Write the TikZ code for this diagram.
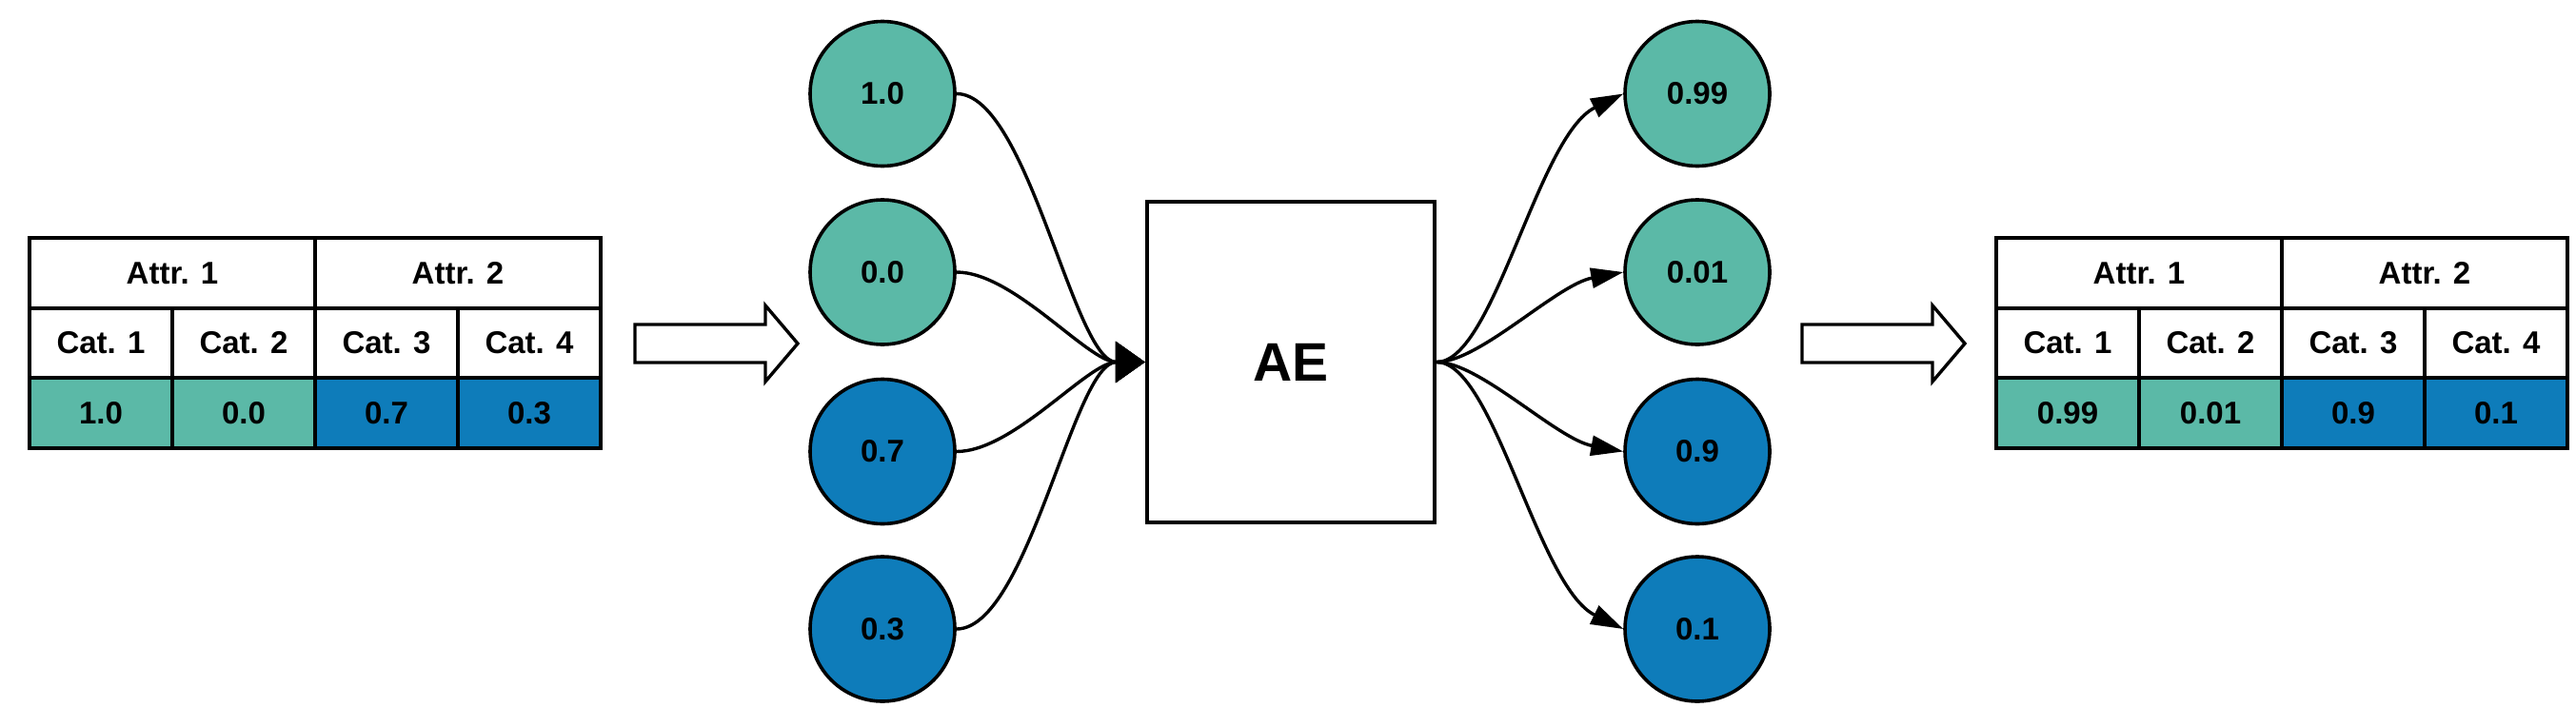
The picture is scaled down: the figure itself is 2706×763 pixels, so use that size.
\documentclass[tikz,border=0pt]{standalone}
\usepackage{fontspec}
\setmainfont{Liberation Sans}
\usetikzlibrary{arrows.meta}
\definecolor{teal1}{RGB}{91,185,167}
\definecolor{blue1}{RGB}{14,124,186}
\tikzset{
  cell/.style={draw, line width=4pt, rectangle, minimum width=150pt, minimum height=73.7pt, inner sep=0pt, font=\fontsize{33}{38}\selectfont\bfseries},
  hcell/.style={cell, minimum width=300pt},
  tcell/.style={cell, fill=teal1},
  bcell/.style={cell, fill=blue1},
  neuron/.style={draw, circle, line width=3.6pt, minimum size=152pt, inner sep=0pt, font=\fontsize{33}{38}\selectfont\bfseries},
  tneuron/.style={neuron, fill=teal1},
  bneuron/.style={neuron, fill=blue1},
  aebox/.style={draw, rectangle, line width=4.5pt, minimum width=302pt, minimum height=337pt, inner sep=0pt, font=\fontsize{57}{64}\selectfont\bfseries},
  inlink/.style={line width=3.4pt, -{Triangle[length=31pt,width=43pt]}},
  outlink/.style={line width=3.4pt, -{Triangle[length=34pt,width=21pt]}},
  blockarrow/.style={draw, line width=3.4pt, fill=white, line join=miter}
}
\begin{document}
\begin{tikzpicture}[x=1pt,y=-1pt]
\useasboundingbox (0,0) rectangle (2706,763);
% left table
\node[hcell] (la1) at (181,286.8) {Attr. 1};
\node[hcell] (la2) at (481,286.8) {Attr. 2};
\node[cell] (lc1) at (106,360.5) {Cat. 1};
\node[cell] (lc2) at (256,360.5) {Cat. 2};
\node[cell] (lc3) at (406,360.5) {Cat. 3};
\node[cell] (lc4) at (556,360.5) {Cat. 4};
\node[tcell] (lv1) at (106,434.2) {1.0};
\node[tcell] (lv2) at (256,434.2) {0.0};
\node[bcell] (lv3) at (406,434.2) {0.7};
\node[bcell] (lv4) at (556,434.2) {0.3};
% right table
\node[hcell] (ra1) at (2247,286.8) {Attr. 1};
\node[hcell] (ra2) at (2547,286.8) {Attr. 2};
\node[cell] (rc1) at (2172,360.5) {Cat. 1};
\node[cell] (rc2) at (2322,360.5) {Cat. 2};
\node[cell] (rc3) at (2472,360.5) {Cat. 3};
\node[cell] (rc4) at (2622,360.5) {Cat. 4};
\node[tcell] (rv1) at (2172,434.2) {0.99};
\node[tcell] (rv2) at (2322,434.2) {0.01};
\node[bcell] (rv3) at (2472,434.2) {0.9};
\node[bcell] (rv4) at (2622,434.2) {0.1};
% block arrows
\draw[blockarrow] (667,341) -- (804,341) -- (804,321) -- (838,361) -- (804,401) -- (804,381) -- (667,381) -- cycle;
\draw[blockarrow] (1893,341) -- (2030,341) -- (2030,321) -- (2064,361) -- (2030,401) -- (2030,381) -- (1893,381) -- cycle;
% input neurons
\node[tneuron] (i1) at (927,98.5) {1.0};
\node[tneuron] (i2) at (927,286) {0.0};
\node[bneuron] (i3) at (927,474.5) {0.7};
\node[bneuron] (i4) at (927,661) {0.3};
% AE
\node[aebox] (ae) at (1356,380.5) {AE};
% output neurons
\node[tneuron] (o1) at (1783,98.5) {0.99};
\node[tneuron] (o2) at (1783,286) {0.01};
\node[bneuron] (o3) at (1783,474.5) {0.9};
\node[bneuron] (o4) at (1783,661) {0.1};
% input links
\draw[inlink] (i1.east) .. controls +(75,0) and +(-75,0) .. (ae.west);
\draw[inlink] (i2.east) .. controls +(60,0) and +(-60,0) .. (ae.west);
\draw[inlink] (i3.east) .. controls +(60,0) and +(-60,0) .. (ae.west);
\draw[inlink] (i4.east) .. controls +(75,0) and +(-75,0) .. (ae.west);
% output links
\draw[outlink] (ae.east) .. controls +(60,0) and +(-90,44) .. (o1.west);
\draw[outlink] (ae.east) .. controls +(45,0) and +(-70,13) .. (o2.west);
\draw[outlink] (ae.east) .. controls +(45,0) and +(-70,-13) .. (o3.west);
\draw[outlink] (ae.east) .. controls +(60,0) and +(-90,-44) .. (o4.west);
\end{tikzpicture}
\end{document}
